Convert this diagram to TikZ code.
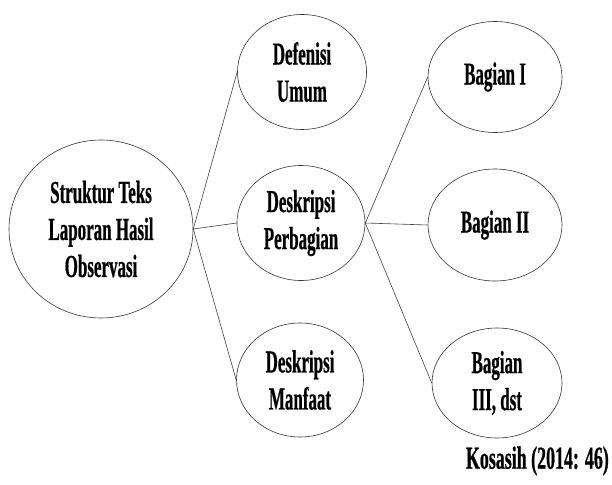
\documentclass[tikz,border=0pt]{standalone}
\usepackage{fontspec}
\setmainfont{Liberation Serif}[FakeStretch=0.53,BoldFeatures={FakeStretch=0.53,FakeBold=0.6}]
\newfontfamily\srcfont{Liberation Serif Bold}[FakeStretch=0.56,FakeBold=0.6]
\usetikzlibrary{shapes.geometric}
\begin{document}
\begin{tikzpicture}[x=1pt,y=-1pt,
  bub/.style={ellipse,draw=black!80,line width=0.6pt,inner sep=0pt,align=center,
    font=\bfseries\fontsize{32}{37}\selectfont},
  link/.style={draw=black!75,line width=0.6pt}]
\useasboundingbox (0,0) rectangle (612,484);
\node[bub,minimum width=184,minimum height=178] (main) at (101,229) {Struktur Teks\\Laporan Hasil\\Observasi};
\node[bub,minimum width=129,minimum height=115] (def) at (302,72) {Defenisi\\Umum};
\node[bub,minimum width=128,minimum height=115] (per) at (301,223) {Deskripsi\\Perbagian};
\node[bub,minimum width=127,minimum height=114] (man) at (300,380) {Deskripsi\\Manfaat};
\node[bub,minimum width=134,minimum height=111] (b1) at (495,77) {Bagian I};
\node[bub,minimum width=134,minimum height=112] (b2) at (495,225) {Bagian II};
\node[bub,minimum width=130,minimum height=110] (b3) at (497,383) {Bagian\\III, dst};
\node[font=\srcfont\fontsize{32}{37}\selectfont,anchor=east,inner sep=0pt] (src) at (609,461) {Kosasih (2014: 46)};
\draw[link] (main.east) -- (def.west);
\draw[link] (main.east) -- (per.west);
\draw[link] (main.east) -- (man.west);
\draw[link] (per.east) -- (b1.west);
\draw[link] (per.east) -- (b2.west);
\draw[link] (per.east) -- (b3.west);
\end{tikzpicture}
\end{document}
